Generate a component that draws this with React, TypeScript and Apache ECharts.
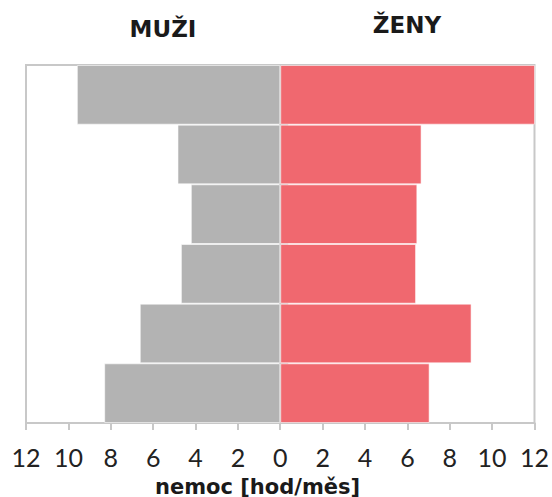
import React, { useEffect, useRef } from "react";
import * as echarts from "echarts";

const categories = ["1", "2", "3", "4", "5", "6"];
const menValues = [9.6, 4.85, 4.22, 4.69, 6.63, 8.31];
const womenValues = [12.05, 6.67, 6.47, 6.41, 9.03, 7.05];
const sideTitles = ["MUŽI", "ŽENY"];
const axisName = "nemoc [hod/měs]";

export default function App() {
  const ref = useRef<HTMLDivElement>(null);
  useEffect(() => {
    if (!ref.current) return;
    const chart = echarts.init(ref.current, undefined, { renderer: "svg" });
    const frame = "#c8c8c8";
    const titleStyle = { fontFamily: "DejaVu Sans", fontWeight: "bold", fontSize: 23, color: "#1a1a1a" };
    chart.setOption({
      animation: false,
      backgroundColor: "#ffffff",
      title: [
        { text: sideTitles[0], left: 158, top: 12, textAlign: "center", textStyle: titleStyle },
        { text: sideTitles[1], left: 402, top: 8, textAlign: "center", textStyle: titleStyle },
      ],
      graphic: [
        {
          type: "text",
          left: 155,
          top: 476,
          style: {
            text: axisName,
            font: "bold 21px 'DejaVu Sans'",
            fill: "#1a1a1a",
          },
        },
      ],
      grid: {
        left: 26,
        right: 17,
        top: 65,
        bottom: 74,
        show: true,
        borderColor: frame,
        borderWidth: 2,
        backgroundColor: "transparent",
      },
      xAxis: {
        type: "value",
        min: -12,
        max: 12,
        interval: 2,
        axisLine: { show: true, lineStyle: { color: frame, width: 2 } },
        axisTick: { show: true, length: 7, lineStyle: { color: frame, width: 2 } },
        splitLine: { show: false },
        axisLabel: {
          fontFamily: "Lato",
          fontSize: 25,
          color: "#222",
          margin: 21,
          formatter: (v: number) => String(Math.abs(v)),
        },
      },
      yAxis: {
        type: "category",
        data: categories,
        inverse: true,
        axisLine: { show: true, onZero: true, lineStyle: { color: frame, width: 2 } },
        axisTick: { show: true, inside: true, length: 8, lineStyle: { color: frame, width: 2 } },
        axisLabel: { show: false },
        splitLine: { show: false },
      },
      series: [
        {
          type: "bar",
          name: sideTitles[0],
          data: menValues.map((v) => -v),
          barGap: "-100%",
          barCategoryGap: 0,
          itemStyle: { color: "#b3b3b3", borderColor: "rgba(255,255,255,0.55)", borderWidth: 1 },
          z: 1,
        },
        {
          type: "bar",
          name: sideTitles[1],
          data: womenValues,
          barGap: "-100%",
          barCategoryGap: 0,
          itemStyle: { color: "#f0686f", borderColor: "rgba(255,255,255,0.55)", borderWidth: 1 },
          z: 1,
        },
      ],
    });
    return () => chart.dispose();
  }, []);
  return <div ref={ref} style={{ width: 552, height: 497, position: "absolute", left: 0, top: 0 }} />;
}
